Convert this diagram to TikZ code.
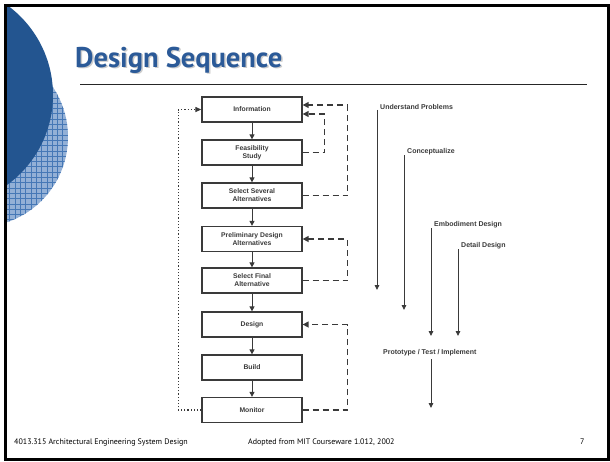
\documentclass[tikz,border=0pt]{standalone}
\usepackage{fontspec}
\setmainfont{Liberation Sans}
\newfontfamily\titlefont{PT Sans}
\newfontfamily\footfont{PT Sans}
\usetikzlibrary{arrows.meta,calc}

\definecolor{deepblue}{HTML}{235590}
\definecolor{hatchfill}{HTML}{93B0D6}
\definecolor{hatchline}{HTML}{4678B6}
\definecolor{titleblue}{HTML}{2B5A98}
\definecolor{ink}{HTML}{3A3A3A}

\begin{document}
\begin{tikzpicture}[x=1pt,y=-1pt,
  stepbox/.style={draw=ink, line width=1.3pt, minimum width=100pt, minimum height=25pt,
    inner sep=0pt, align=center, font=\fontsize{6.8}{7.9}\selectfont\bfseries, text=ink},
  flow/.style={draw=ink, line width=1pt, -{Triangle[length=5pt,width=5pt]}},
  loopback/.style={draw=ink, line width=1.4pt, dash pattern=on 6pt off 4pt,
    -{Triangle[length=6pt,width=6pt]}},
  restart/.style={draw=ink, line width=1.2pt, dotted, -{Triangle[length=6pt,width=5pt]}},
  phase/.style={font=\fontsize{7}{8}\selectfont\bfseries, text=ink, inner sep=0pt, anchor=base west},
  phasearrow/.style={draw=ink, line width=0.9pt, -{Triangle[length=5pt,width=4.5pt]}},
  foot/.style={font=\footfont\fontsize{8}{9}\selectfont, text=black, inner sep=0pt, anchor=base west},
  titletext/.style={font=\titlefont\bfseries\fontsize{28.5}{32}\selectfont, anchor=base west, inner sep=0pt}
]
\useasboundingbox (0,0) rectangle (610,461);
\fill[white] (0,0) rectangle (610,461);

% decorative discs on the left edge
\begin{scope}
  \clip (7,7) rectangle (605,458);
  \fill[hatchfill] (-22,137) circle[radius=90pt];
  \begin{scope}
    \clip (-22,137) circle[radius=90pt];
    \foreach \i in {0,...,34} {
      \draw[hatchline, line width=0.9pt] (-112+\i*5.3,40) -- (-112+\i*5.3,235);
      \draw[hatchline, line width=0.9pt] (-115,45+\i*5.3) -- (75,45+\i*5.3);
    }
  \end{scope}
  \fill[deepblue] (-58,95) circle[radius=111pt];
\end{scope}

% slide frame
\draw[line width=3.5pt] (5.5,5.5) rectangle (608.5,459.5);

% title with soft shadow
\node[titletext, text=gray!40] (titleshadow) at (76.5,68.5) {Design Sequence};
\node[titletext, text=titleblue] (title) at (75,67) {Design Sequence};
\draw[line width=1pt, black!85] (80,84) -- (587,84);

% design steps
\node[stepbox] (info)   at (252,109.5) {Information};
\node[stepbox] (feas)   at (252,152.5) {Feasibility\\Study};
\node[stepbox] (sel)    at (252,195.5) {Select Several\\Alternatives};
\node[stepbox] (prel)   at (252,239)   {Preliminary Design\\Alternatives};
\node[stepbox] (final)  at (252,280.5) {Select Final\\Alternative};
\node[stepbox] (design) at (252,324.5) {Design};
\node[stepbox] (build)  at (252,367.5) {Build};
\node[stepbox] (mon)    at (252,410)   {Monitor};

\draw[flow] (info) -- (feas);
\draw[flow] (feas) -- (sel);
\draw[flow] (sel) -- (prel);
\draw[flow] (prel) -- (final);
\draw[flow] (final) -- (design);
\draw[flow] (design) -- (build);
\draw[flow] (build) -- (mon);

% feedback loops
\draw[loopback] (feas.east) -- ++(22,0) |- ([yshift=-4.5pt]info.east);
\draw[loopback] (sel.east) -- ++(45,0) |- ([yshift=4.5pt]info.east);
\draw[loopback] (final.east) -- ++(45,0) |- (prel.east);
\draw[loopback] (mon.east) -- ++(45,0) |- (design.east);
\draw[restart] (mon.west) -- ++(-23,0) |- (info.west);

% phases of the process
\node[phase] (up)    at (380,109.5) {Understand Problems};
\node[phase] (con)   at (407,153.5) {Conceptualize};
\node[phase] (emb)   at (434,226.5) {Embodiment Design};
\node[phase] (det)   at (461,247.5) {Detail Design};
\node[phase] (proto) at (383,354.5) {Prototype / Test / Implement};

\coordinate (upTip)    at (377,290);
\coordinate (conTip)   at (404,310);
\coordinate (embTip)   at (431,336);
\coordinate (detTip)   at (458,336);
\coordinate (protoTip) at (431,408);

\draw[phasearrow] (up.south west -| upTip) -- (upTip);
\draw[phasearrow] (con.south west -| conTip) -- (conTip);
\draw[phasearrow] (emb.south west -| embTip) -- (embTip);
\draw[phasearrow] (det.south west -| detTip) -- (detTip);
\draw[phasearrow] ($(proto.south -| protoTip)+(0,3)$) -- (protoTip);

% footer
\node[foot] (course) at (14,444)  {4013.315 Architectural Engineering System Design};
\node[foot] (src)    at (248,444) {Adopted from MIT Courseware 1.012, 2002};
\node[foot] (page)   at (580,444) {7};
\end{tikzpicture}
\end{document}
